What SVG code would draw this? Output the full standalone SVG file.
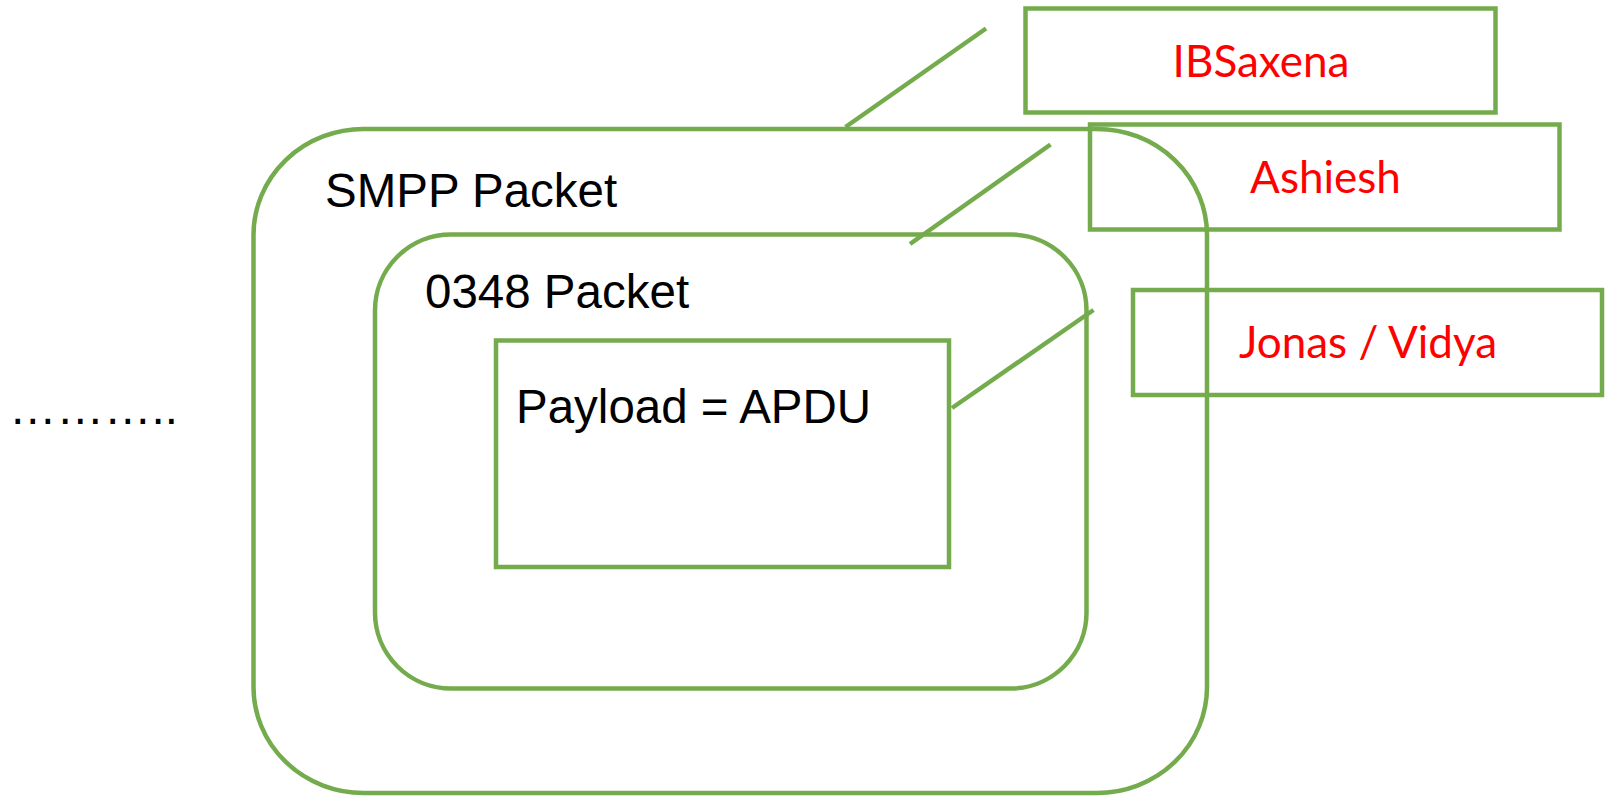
<svg xmlns="http://www.w3.org/2000/svg" width="1609" height="796" viewBox="0 0 1609 796">
<style>
.g{fill:none;stroke:#74AB4C;stroke-width:4.5}
.c{stroke:#74AB4C;stroke-width:4.5;fill:none}
.b{font-family:"Liberation Sans",Arial,sans-serif;font-size:47.5px;fill:#000}
.r{font-family:Lato,"Open Sans",sans-serif;font-size:44px;fill:#FF0000;text-anchor:middle}
</style>
<rect width="1609" height="796" fill="#fff"/>
<g id="smpp">
<rect class="g" x="253.5" y="129" width="953.5" height="664" rx="110" ry="106"/>
<text class="b" x="325" y="206.5">SMPP Packet</text>
</g>
<g id="p0348">
<rect class="g" x="375" y="234.5" width="711.5" height="454" rx="76" ry="76"/>
<text class="b" x="425" y="307.5">0348 Packet</text>
</g>
<g id="payload">
<rect class="g" x="496" y="340.5" width="453" height="226.5"/>
<text class="b" x="516" y="422.5">Payload = APDU</text>
</g>
<g id="dots">
<text class="b" x="9" y="424" font-size="48">………..</text>
</g>
<g id="ibsaxena">
<rect class="g" x="1025.5" y="8.5" width="470" height="104"/>
<text class="r" x="1261" y="76.5">IBSaxena</text>
</g>
<g id="ashiesh">
<rect class="g" x="1090" y="124.5" width="469.5" height="105"/>
<text class="r" x="1325.5" y="193">Ashiesh</text>
</g>
<g id="jonas">
<rect class="g" x="1133" y="290" width="469" height="105"/>
<text class="r" x="1368" y="358">Jonas / Vidya</text>
</g>
<g id="connectors">
<line class="c" x1="845.5" y1="127" x2="986" y2="28.5"/>
<line class="c" x1="910" y1="244" x2="1050.5" y2="144.5"/>
<line class="c" x1="952" y1="408" x2="1093.5" y2="310"/>
</g>
</svg>
